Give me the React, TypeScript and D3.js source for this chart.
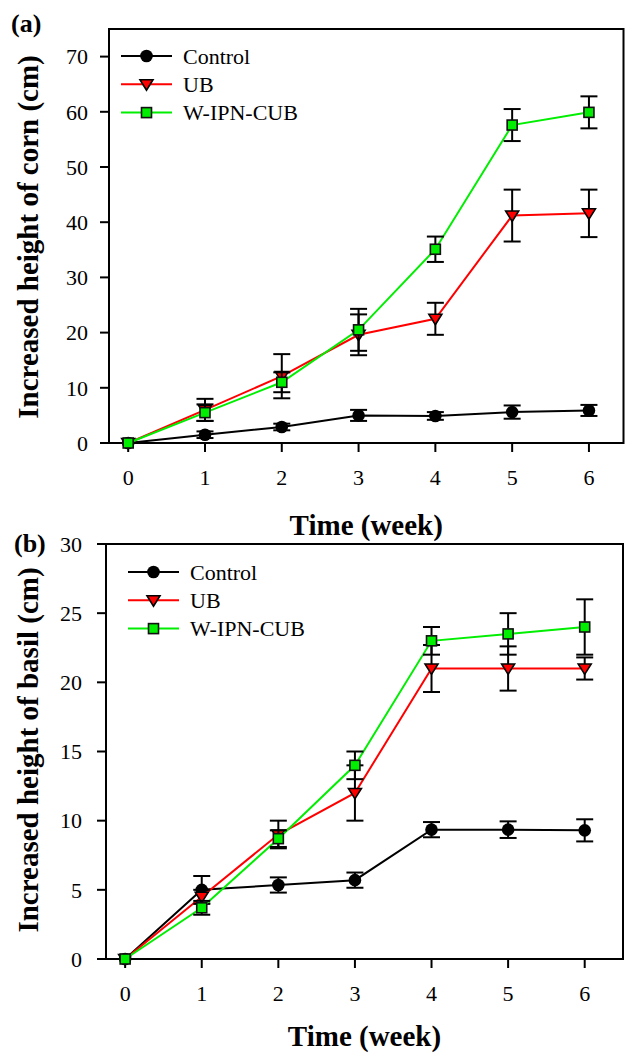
import React from "react";
import * as d3 from "d3";

// weeks on the x axis
const weeks = [0, 1, 2, 3, 4, 5, 6];

// (a) corn
const cornControl = [0, 1.5, 2.9, 5.0, 4.9, 5.6, 5.9];
const cornControlErr = [0, 0.6, 0.6, 1.0, 0.7, 1.2, 1.0];
const cornUB = [0, 6.0, 12.1, 19.6, 22.5, 41.2, 41.6];
const cornUBErr = [0, 2.0, 4.0, 3.7, 2.9, 4.7, 4.3];
const cornW = [0, 5.5, 11.0, 20.5, 35.1, 57.6, 59.9];
const cornWErr = [0, 1.5, 1.8, 3.8, 2.3, 2.9, 2.9];
const cornTicks = [0, 10, 20, 30, 40, 50, 60, 70];

// (b) basil
const basilControl = [0, 5.0, 5.35, 5.7, 9.35, 9.35, 9.3];
const basilControlErr = [0, 1.0, 0.55, 0.55, 0.55, 0.6, 0.8];
const basilUB = [0, 4.5, 9.0, 12.0, 21.0, 21.0, 21.0];
const basilUBErr = [0, 0.5, 1.0, 2.0, 1.7, 1.6, 0.8];
const basilW = [0, 3.7, 8.7, 14.0, 23.0, 23.5, 24.0];
const basilWErr = [0, 0.5, 0.6, 1.0, 1.0, 1.5, 2.0];
const basilTicks = [0, 5, 10, 15, 20, 25, 30];

const seriesNames = ["Control", "UB", "W-IPN-CUB"];
const seriesColors = ["#000000", "#ff0000", "#00ee00"];
const markerFill = ["#000000", "#ff0000", "#00ee00"];

const FONT = "'Liberation Serif', 'Times New Roman', serif";

function Marker({ kind, x, y, fill }) {
  if (kind === 0) return <circle cx={x} cy={y} r={6.3} fill="#000" />;
  if (kind === 1) {
    const s = 6.5;
    const p = `M${x - s},${y - s * 0.7} L${x + s},${y - s * 0.7} L${x},${y + s * 0.9} Z`;
    return <path d={p} fill={fill} stroke="#000" strokeWidth={1.6} />;
  }
  return (
    <rect x={x - 5} y={y - 5} width={10} height={10} fill={fill}
      stroke="#111" strokeWidth={1.6} />
  );
}

function Panel(props) {
  const { left, right, top, bottom, xDomain, yDomain, yTicks, series, errs,
    tag, tagPos, yTitle, yTitleY, legendX, legendY, tickGap, xTitleY } = props;
  const x = d3.scaleLinear().domain(xDomain).range([left, right]);
  const y = d3.scaleLinear().domain(yDomain).range([bottom, top]);
  const line = d3.line<number>().x((_, i) => x(weeks[i])).y((v) => y(v));
  const cap = 8.5;
  return (
    <g fontFamily={FONT}>
      <text x={tagPos[0]} y={tagPos[1]} fontSize={26} fontWeight="bold">{tag}</text>
      {/* frame */}
      <rect x={left} y={top} width={right - left} height={bottom - top}
        fill="none" stroke="#000" strokeWidth={2} />
      {yTicks.map((t) => (
        <g key={"y" + t}>
          <line x1={left - 9} x2={left} y1={y(t)} y2={y(t)} stroke="#000" strokeWidth={2} />
          <text x={left - tickGap} y={y(t)} dy="0.35em" textAnchor="end" fontSize={22}>{t}</text>
        </g>
      ))}
      {weeks.map((w) => (
        <g key={"x" + w}>
          <line x1={x(w)} x2={x(w)} y1={bottom} y2={bottom + 9} stroke="#000" strokeWidth={2} />
          <text x={x(w)} y={bottom + 42} textAnchor="middle" fontSize={22}>{w}</text>
        </g>
      ))}
      <text x={(left + right) / 2} y={xTitleY} textAnchor="middle" fontSize={29}
        fontWeight="bold">Time (week)</text>
      <text transform={`translate(38,${yTitleY}) rotate(-90)`} textAnchor="middle"
        fontSize={29} fontWeight="bold">{yTitle}</text>
      {series.map((vals, k) => (
        <g key={"s" + k}>
          <path d={line(vals)} fill="none" stroke={seriesColors[k]} strokeWidth={2} />
          {vals.map((v, i) => {
            const e = errs[k][i];
            if (!e) return null;
            const cx = x(weeks[i]);
            return (
              <g key={i} stroke="#000" strokeWidth={2}>
                <line x1={cx} x2={cx} y1={y(v - e)} y2={y(v + e)} />
                <line x1={cx - cap} x2={cx + cap} y1={y(v + e)} y2={y(v + e)} />
                <line x1={cx - cap} x2={cx + cap} y1={y(v - e)} y2={y(v - e)} />
              </g>
            );
          })}
          {vals.map((v, i) => (
            <Marker key={"m" + i} kind={k} x={x(weeks[i])} y={y(v)} fill={markerFill[k]} />
          ))}
        </g>
      ))}
      {/* legend */}
      {seriesNames.map((n, k) => {
        const ly = legendY + k * 28.3;
        return (
          <g key={n}>
            <line x1={legendX} x2={legendX + 51} y1={ly} y2={ly} stroke={seriesColors[k]} strokeWidth={2} />
            <Marker kind={k} x={legendX + 25.5} y={ly} fill={markerFill[k]} />
            <text x={legendX + 62} y={ly} dy="0.35em" fontSize={22}>{n}</text>
          </g>
        );
      })}
    </g>
  );
}

export default function App() {
  return (
    <svg width={625} height={1054} viewBox="0 0 625 1054"
      style={{ position: "absolute", left: 0, top: 0, background: "#fff" }}>
      <Panel left={109} right={623.5} top={29} bottom={443}
        xDomain={[-0.25, 6.45]} yDomain={[0, 75]} yTicks={cornTicks}
        series={[cornControl, cornUB, cornW]} errs={[cornControlErr, cornUBErr, cornWErr]}
        tag="(a)" tagPos={[11, 32]} yTitle="Increased height of corn (cm)" yTitleY={237}
        legendX={121} legendY={56} tickGap={21} xTitleY={535} />
      <Panel left={106} right={623} top={544} bottom={959}
        xDomain={[-0.25, 6.5]} yDomain={[0, 30]} yTicks={basilTicks}
        series={[basilControl, basilUB, basilW]} errs={[basilControlErr, basilUBErr, basilWErr]}
        tag="(b)" tagPos={[14, 552]} yTitle="Increased height of basil (cm)" yTitleY={750}
        legendX={128} legendY={572} tickGap={24} xTitleY={1046} />
    </svg>
  );
}
